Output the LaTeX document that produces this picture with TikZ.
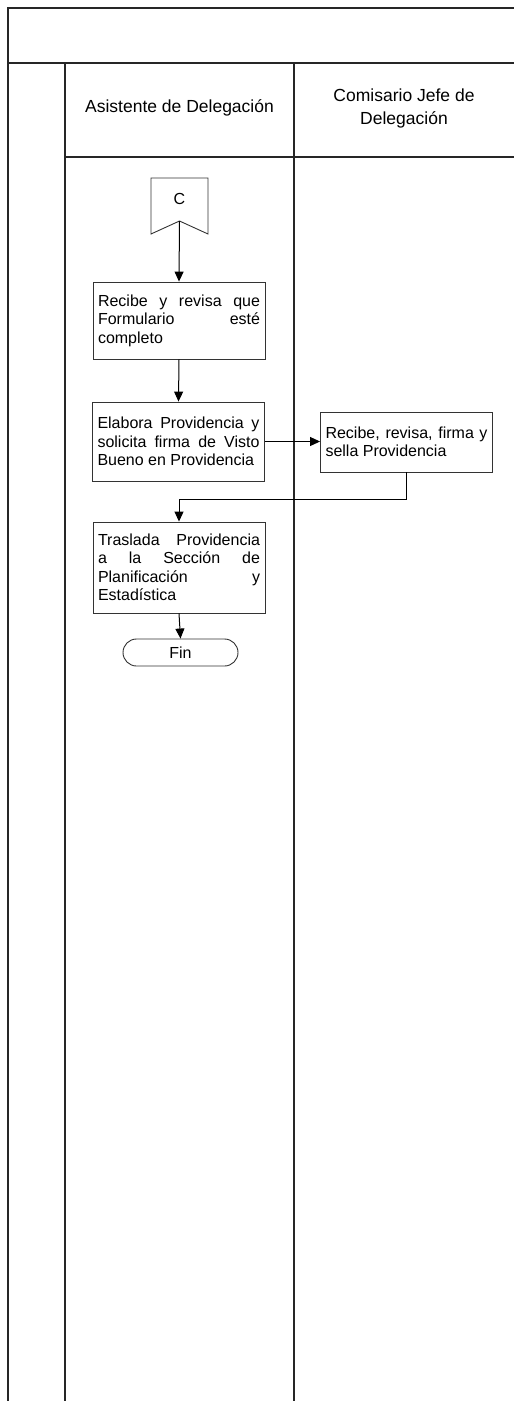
\documentclass[tikz,border=0pt]{standalone}
\usepackage{fontspec}
\setsansfont{Liberation Sans}
\usetikzlibrary{arrows.meta}

\begin{document}
\begin{tikzpicture}[x = 1pt, y = -1pt, font=\sffamily, >={Triangle[length=10pt, width=9pt]}]
	\tikzstyle{laneStyle} = [draw = black!85, line width = 1.3pt]
	\tikzstyle{titleStyle} = [align = center, font = \sffamily\fontsize{17.5}{23}\selectfont]
	\tikzstyle{taskStyle} = [shape = rectangle, draw = black!80, line width = 0.9pt, text width = 162pt, inner xsep = 5pt, inner ysep = 0pt, align = justify, font = \sffamily\fontsize{16}{18.5}\selectfont]
	\tikzstyle{endStyle} = [shape = rectangle, rounded corners = 13.5pt, draw = black!80, line width = 0.9pt, minimum width = 115pt, minimum height = 27pt, inner sep = 0pt, font = \sffamily\fontsize{16}{18.5}\selectfont]
	\tikzstyle{flowStyle} = [->, line width = 1pt]
	\useasboundingbox (0,0) rectangle (514,1401);
	% swimlanes
	\draw[laneStyle] (8,1401) -- (8,8) -- (514,8);
	\draw[laneStyle] (8,63) -- (514,63);
	\draw[laneStyle] (65,63) -- (65,1401);
	\draw[laneStyle] (294,63) -- (294,1401);
	\draw[laneStyle] (65,157) -- (514,157);
	\node[titleStyle] (t1) at (179.5,108) {Asistente de Delegación};
	\node[titleStyle] (t2) at (404,108.5) {Comisario Jefe de\\Delegación};
	% off-page connector
	\draw[draw = black!80, line width = 0.9pt] (151,178) -- (208,178) -- (208,234) -- (179.5,221) -- (151,234) -- cycle;
	\node[font = \sffamily\fontsize{16}{18.5}\selectfont] (conC) at (179.5,199) {C};
	\coordinate (cTip) at (179.5,221);
	% tasks
	\node[taskStyle, minimum height = 77pt] (b1) at (179,320.5) {Recibe y revisa que\linebreak Formulario esté\linebreak completo};
	\node[taskStyle, minimum height = 79pt] (b2) at (178.5,441.5) {Elabora Providencia y\linebreak solicita firma de Visto\linebreak Bueno en Providencia};
	\node[taskStyle, minimum height = 60pt] (b3) at (406.5,442) {Recibe, revisa, firma y\linebreak sella Providencia};
	\node[taskStyle, minimum height = 91pt] (b4) at (179,567.5) {Traslada Providencia\linebreak a la Sección de\linebreak Planificación y\linebreak Estadística};
	\node[endStyle] (fin) at (180.5,652.5) {Fin};
	% flow
	\draw[flowStyle] (cTip) -- (b1.north);
	\draw[flowStyle] (b1.south) -- (b2.north);
	\draw[flowStyle] (b2.east) -- (b2.east -| b3.west);
	\draw[flowStyle] (b3.south) -- ++(0,27) -| (b4.north);
	\draw[flowStyle] (b4.south) -- (fin.north);
\end{tikzpicture}
\end{document}
